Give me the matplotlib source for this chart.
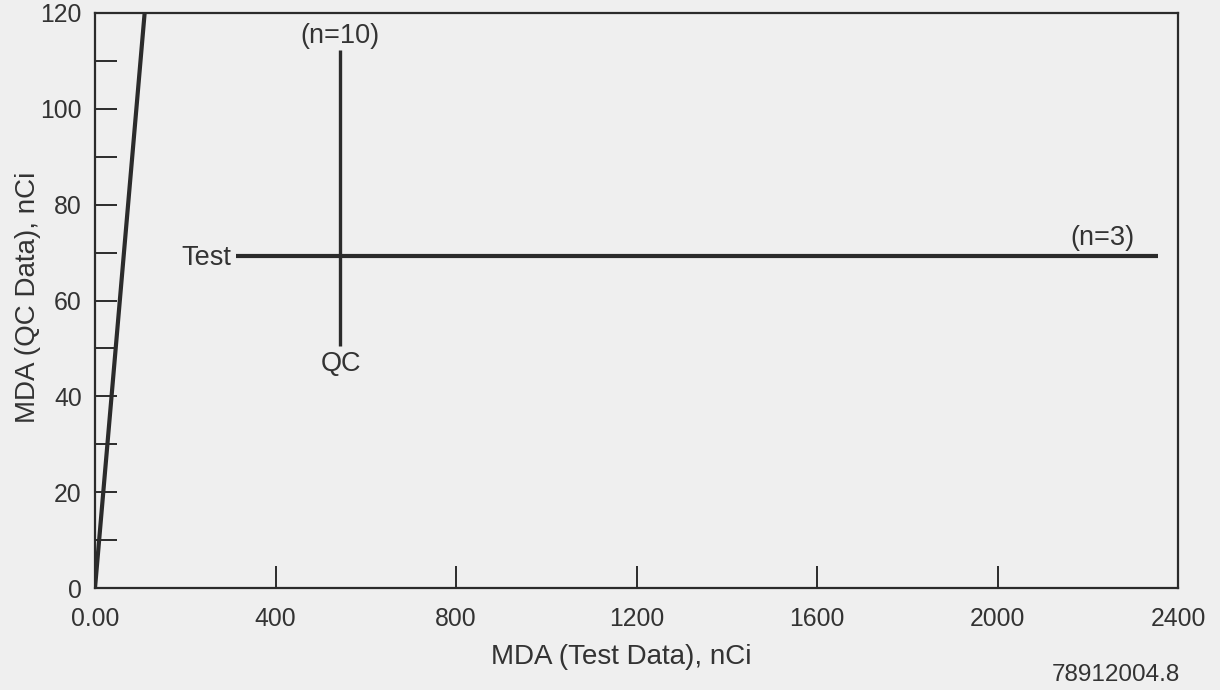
import matplotlib
matplotlib.use("Agg")
import matplotlib.pyplot as plt
from matplotlib.ticker import MultipleLocator, FixedLocator

# values
diag_x = [0, 110]
diag_y = [0, 120]
test_x = [312, 2356]          # Test MDA range (n=3)
test_y = [69.2, 69.2]
qc_x = [543, 543]
qc_y = [50.5, 112.3]          # QC MDA range (n=10)

x_ticks = [0, 400, 800, 1200, 1600, 2000, 2400]
x_labels = ["0.00", "400", "800", "1200", "1600", "2000", "2400"]
y_ticks = [0, 20, 40, 60, 80, 100, 120]

plt.rcParams['font.family'] = ['Liberation Sans', 'DejaVu Sans']
bg = '#efefef'
ink = '#2b2b2b'
txt = '#333333'

fig = plt.figure(figsize=(12.2, 6.9), dpi=100, facecolor=bg)
ax = fig.add_axes([95 / 1220, 102 / 690, 1083 / 1220, 575 / 690])
ax.set_facecolor(bg)

ax.plot(diag_x, diag_y, color=ink, lw=3.0, solid_capstyle='butt')
ax.plot(test_x, test_y, color=ink, lw=3.0, solid_capstyle='butt')
ax.plot(qc_x, qc_y, color=ink, lw=2.4, solid_capstyle='butt')

ax.set_xlim(0, 2400)
ax.set_ylim(0, 120)

# annotations tied to the line ends
ax.annotate("Test", xy=(test_x[0], test_y[0]), xytext=(-3, -1), textcoords='offset points',
            ha='right', va='center', fontsize=19.5, color=txt)
ax.annotate("(n=3)", xy=(test_x[1], test_y[1]), xytext=(-40, 13), textcoords='offset points',
            ha='center', va='center', fontsize=19.5, color=txt)
ax.annotate("(n=10)", xy=(qc_x[1], qc_y[1]), xytext=(0, 10), textcoords='offset points',
            ha='center', va='center', fontsize=19.5, color=txt)
ax.annotate("QC", xy=(qc_x[0], qc_y[0]), xytext=(1, -13), textcoords='offset points',
            ha='center', va='center', fontsize=19.5, color=txt)

ax.xaxis.set_major_locator(FixedLocator(x_ticks))
ax.set_xticklabels(x_labels)
ax.yaxis.set_major_locator(FixedLocator(y_ticks))
ax.yaxis.set_minor_locator(MultipleLocator(10))

ax.tick_params(axis='both', which='both', direction='in', length=16, width=1.4,
               color=ink, labelcolor=txt, labelsize=17.8)
ax.tick_params(axis='x', pad=14)
ax.tick_params(axis='y', pad=9.5)
ax.tick_params(top=False, right=False)

for s in ax.spines.values():
    s.set_linewidth(1.6)
    s.set_color(ink)

ax.set_xlabel("MDA (Test Data), nCi", fontsize=20, color=txt)
ax.xaxis.set_label_coords(0.486, -0.097)
ax.set_ylabel("MDA (QC Data), nCi", fontsize=20, color=txt)
ax.yaxis.set_label_coords(-0.05, 0.505)

fig.text(1180 / 1220, 1 - 675 / 690, "78912004.8", ha='right', va='center',
         fontsize=17.5, color=txt)

fig.savefig("out.png", dpi=100, facecolor=bg)
